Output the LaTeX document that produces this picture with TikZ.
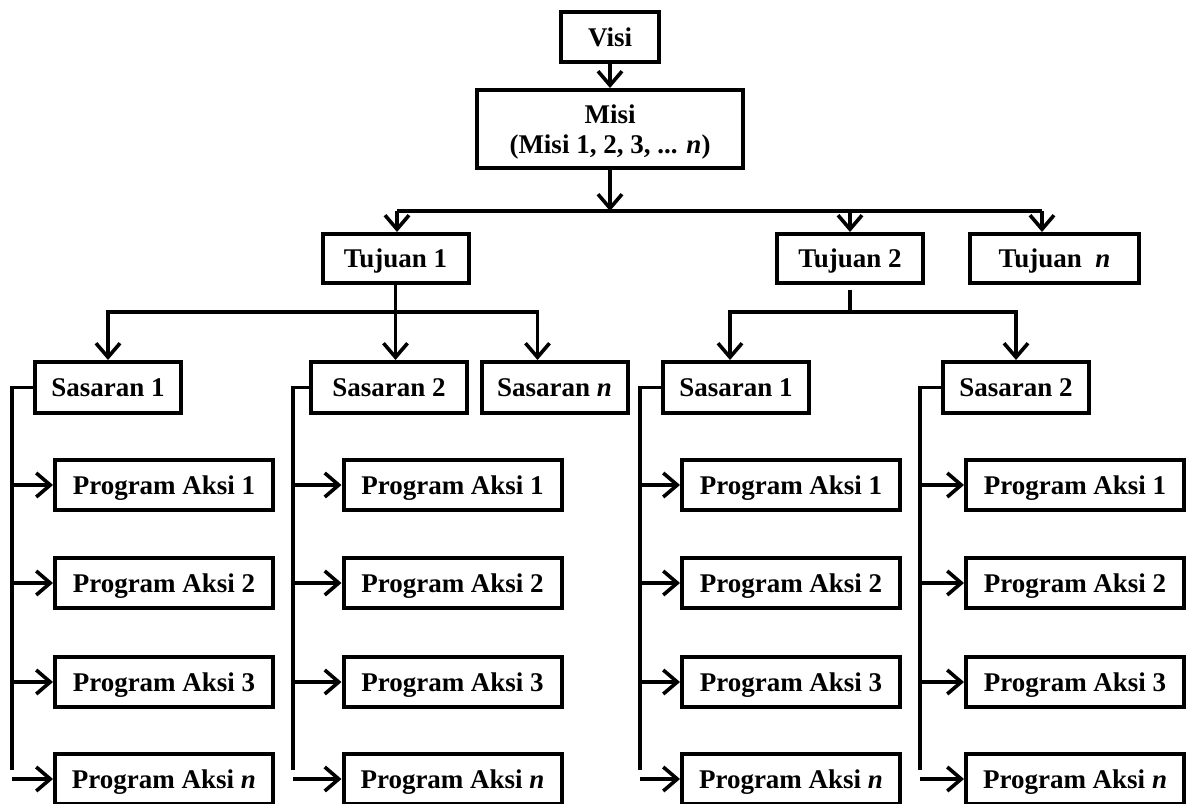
\documentclass[tikz,border=0pt]{standalone}
\usepackage{fontspec}
\setmainfont{Liberation Serif}
\usetikzlibrary{arrows.meta,calc}
\tikzset{
        boxnode/.style={draw, rectangle, line width=2pt, inner sep=0pt, align=center, text depth=0pt, font=\fontsize{13.5}{15}\selectfont\bfseries},
        % Visi and Misi nodes
        node_top/.style={boxnode, minimum height=25pt},
        % Tujuan nodes
        node_tujuan/.style={boxnode, minimum width=73pt, minimum height=24.5pt},
        % Sasaran nodes
        node_sasaran/.style={boxnode, minimum width=73pt, minimum height=25.5pt},
        % Program Aksi nodes
        node_program/.style={boxnode, minimum width=109pt, minimum height=25pt},
        % Connectors
        link/.style={line width=1.8pt},
        arr/.style={link, -{Straight Barb[length=7pt,width=12pt]}}
}

\begin{document}
\begin{tikzpicture}[x=0.5pt, y=-0.5pt]
            \clip (0,0) rectangle (1187,803);
            \node[node_top, minimum width=49pt] (visi) at (610,37) {Visi};
            \node[node_top, minimum width=133pt, minimum height=39pt] (misi) at (610,129) {Misi\\(Misi 1, 2, 3, ... \textit{n})};

            \node[node_tujuan] (tuj1) at (395.5,258.5) {Tujuan 1};
            \node[node_tujuan] (tuj2) at (850,258.5) {Tujuan 2};
            \node[node_tujuan, minimum width=84.5pt] (tujn) at (1054.5,258.5) {Tujuan~~\textit{n}};

            \node[node_sasaran] (sas11) at (108,387.5) {Sasaran 1};
            \node[node_sasaran, minimum width=78pt] (sas12) at (389,387.5) {Sasaran 2};
            \node[node_sasaran] (sas1n) at (554.5,387.5) {Sasaran \textit{n}};
            \node[node_sasaran] (sas21) at (736,387.5) {Sasaran 1};
            \node[node_sasaran] (sas22) at (1016,387.5) {Sasaran 2};

            \coordinate (m0) at (610,211);
            \coordinate (mL) at (397,211);
            \coordinate (mR) at (1042,211);
            \coordinate (j1) at (395,312);
            \coordinate (j2) at (850,312);

            % Visi -> Misi -> Tujuan
            \draw[arr] (visi) -- (misi);
            \draw[arr] (misi) -- (m0);
            \draw[link] (mL) -- (mR);
            \draw[arr] (mL) -- (mL |- tuj1.north);
            \draw[arr] (tuj2.north |- m0) -- (tuj2);
            \draw[arr] (mR) -- (mR |- tujn.north);

            % Tujuan -> Sasaran
            \draw[arr] (tuj1) -- (tuj1.south |- sas12.north);
            \draw[arr] (j1) -| (sas11.north);
            \draw[arr] (j1) -| ($(sas1n.north)+(-17,0)$);
            \draw[link] ($(tuj2.south)+(0,5)$) -- (j2);
            \draw[arr] (j2) -| ($(sas21.north)+(-6,0)$);
            \draw[arr] (j2) -| (sas22.north);

            % Sasaran -> Program Aksi
            \foreach \s/\bx/\cx in {sas11/12/164, sas12/293/452.5, sas21/640/791, sas22/920/1075}{
                \node[node_program] (\s-1) at (\cx,485) {Program Aksi 1};
                \node[node_program] (\s-2) at (\cx,583) {Program Aksi 2};
                \node[node_program] (\s-3) at (\cx,682) {Program Aksi 3};
                \node[node_program] (\s-n) at (\cx,779) {Program Aksi \textit{n}};
                \coordinate (\s-bar) at (\bx,770);
                \draw[link] (\s) -| (\s-bar);
                \foreach \k in {1,2,3,n}
                    \draw[arr] (\s-bar |- \s-\k.west) -- (\s-\k);
            }
        \end{tikzpicture}
\end{document}
